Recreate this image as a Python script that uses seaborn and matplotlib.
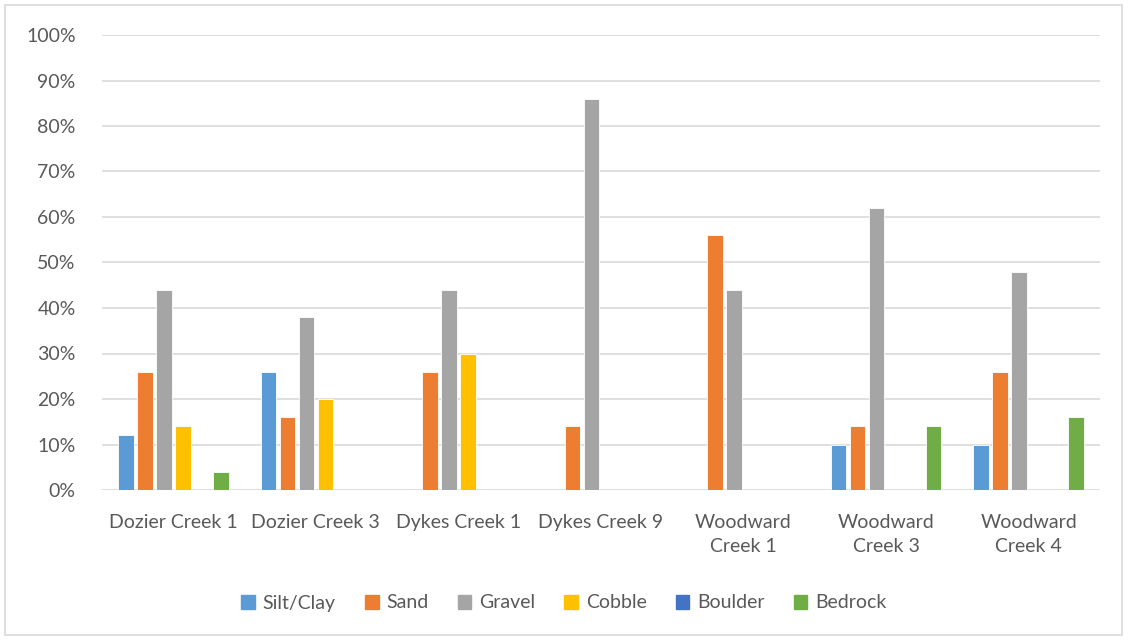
import matplotlib
matplotlib.use("Agg")
import matplotlib.pyplot as plt
import matplotlib.patches as mpatches
from matplotlib.ticker import PercentFormatter, MultipleLocator
import seaborn as sns
import pandas as pd

sites = ["Dozier Creek 1", "Dozier Creek 3", "Dykes Creek 1", "Dykes Creek 9",
         "Woodward\nCreek 1", "Woodward\nCreek 3", "Woodward\nCreek 4"]
classes = ["Silt/Clay", "Sand", "Gravel", "Cobble", "Boulder", "Bedrock"]

silt_clay = [0.12, 0.26, 0.00, 0.00, 0.00, 0.10, 0.10]
sand      = [0.26, 0.16, 0.26, 0.14, 0.56, 0.14, 0.26]
gravel    = [0.44, 0.38, 0.44, 0.86, 0.44, 0.62, 0.48]
cobble    = [0.14, 0.20, 0.30, 0.00, 0.00, 0.00, 0.00]
boulder   = [0.00, 0.00, 0.00, 0.00, 0.00, 0.00, 0.00]
bedrock   = [0.04, 0.00, 0.00, 0.00, 0.00, 0.14, 0.16]

colors = ["#5B9BD5", "#ED7D31", "#A5A5A5", "#FFC000", "#4472C4", "#70AD47"]

series = [silt_clay, sand, gravel, cobble, boulder, bedrock]
rows = []
for cls, vals in zip(classes, series):
    for site, v in zip(sites, vals):
        rows.append({"site": site, "class": cls, "share": v})
df = pd.DataFrame(rows)

sns.set_theme(style="white")
plt.rcParams["font.family"] = ["Lato", "DejaVu Sans"]
text_color = "#595959"

fig = plt.figure(figsize=(11.28, 6.4), dpi=100)
ax = fig.add_axes([102 / 1128, 150 / 640, 998 / 1128, 455 / 640])

sns.barplot(data=df, x="site", y="share", hue="class", order=sites,
            hue_order=classes, palette=colors, saturation=1, width=0.8,
            gap=0.18, edgecolor="white", linewidth=0.6, ax=ax, legend=False)

ax.set_ylim(0, 1.0)
ax.yaxis.set_major_locator(MultipleLocator(0.1))
ax.yaxis.set_major_formatter(PercentFormatter(1.0, decimals=0))
ax.grid(axis="y", color="#D9D9D9", linewidth=1.2)
ax.set_axisbelow(True)
for s in ax.spines.values():
    s.set_visible(False)
ax.set_xlabel("")
ax.set_ylabel("")
ax.tick_params(axis="both", length=0, labelsize=14, colors=text_color)
ax.tick_params(axis="x", pad=17)
ax.tick_params(axis="y", pad=19)
for lbl in ax.get_xticklabels():
    lbl.set_linespacing(1.5)

handles = [mpatches.Patch(color=c, label=l) for c, l in zip(colors, classes)]
fig.legend(handles=handles, loc="center", bbox_to_anchor=(0.5, 37 / 640),
           ncol=6, frameon=False, fontsize=14, handlelength=0.7,
           handleheight=0.7, handletextpad=0.4, columnspacing=1.5,
           labelcolor=text_color)

fig.patches.append(mpatches.Rectangle((5 / 1128, 5 / 640), 1117 / 1128, 630 / 640,
                                      transform=fig.transFigure, fill=False,
                                      edgecolor="#D9D9D9", linewidth=1.2))

fig.savefig("out.png", dpi=100, facecolor="white")
